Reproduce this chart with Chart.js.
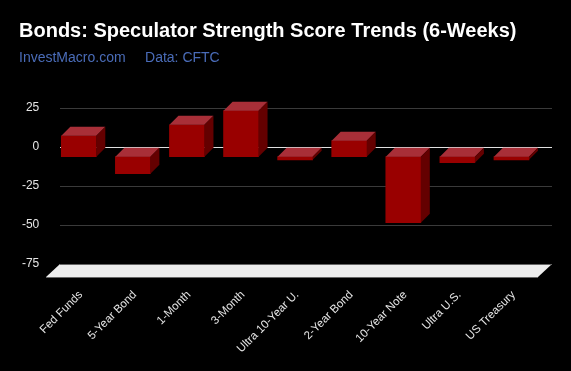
<!DOCTYPE html>
<html>
<head>
<meta charset="utf-8">
<style>
html, body { margin: 0; padding: 0; background: #000; }
canvas { display: block; }
</style>
<script src="https://cdn.jsdelivr.net/npm/chart.js@4"></script>
</head>
<body>
<canvas id="chart" width="571" height="371"></canvas>
<script>
const categories = ["Fed Funds", "5-Year Bond", "1-Month", "3-Month", "Ultra 10-Year U.", "2-Year Bond", "10-Year Note", "Ultra U.S.", "US Treasury"];
const scores = [13.4, -10.9, 20.5, 29.5, -2, 10.3, -42.3, -3.8, -2];
const yTicks = [25, 0, -25, -50, -75];
const titleText = "Bonds: Speculator Strength Score Trends (6-Weeks)";
const subtitleText = "InvestMacro.com     Data: CFTC";

const FONT = "'Liberation Sans', Arial, sans-serif";
const DEPTH = 9; // how far the bar boxes go back
const FRONT_SHIFT = 9.7; // front faces sit this far below the wall's zero line
const FLOOR_DEPTH = 14;
const FLOOR_HEIGHT = 13;
const WALL_LEFT = 60;
const WALL_RIGHT = 552;

// grid, floor and the fake 3D faces
const box3d = {
    id: "box3d",
    beforeDatasetsDraw(chart) {
        const { ctx } = chart;
        const y = chart.scales.y;
        ctx.save();
        y.ticks.forEach((tick) => {
            const py = Math.round(y.getPixelForValue(tick.value)) + 0.5;
            ctx.strokeStyle = tick.value === 0 ? "#e0e0e0" : "#3a3a3a";
            ctx.lineWidth = 1;
            ctx.beginPath();
            ctx.moveTo(WALL_LEFT, py);
            ctx.lineTo(WALL_RIGHT, py);
            ctx.stroke();
        });

        const floorTop = y.getPixelForValue(-75);
        ctx.fillStyle = "#ededed";
        ctx.beginPath();
        ctx.moveTo(WALL_LEFT, floorTop);
        ctx.lineTo(WALL_RIGHT, floorTop);
        ctx.lineTo(WALL_RIGHT - FLOOR_DEPTH, floorTop + FLOOR_HEIGHT);
        ctx.lineTo(WALL_LEFT - FLOOR_DEPTH, floorTop + FLOOR_HEIGHT);
        ctx.closePath();
        ctx.fill();
        ctx.strokeStyle = "#666";
        ctx.beginPath();
        ctx.moveTo(WALL_LEFT, floorTop + 0.5);
        ctx.lineTo(WALL_RIGHT, floorTop + 0.5);
        ctx.moveTo(WALL_LEFT - FLOOR_DEPTH, floorTop + FLOOR_HEIGHT + 0.5);
        ctx.lineTo(WALL_RIGHT - FLOOR_DEPTH, floorTop + FLOOR_HEIGHT + 0.5);
        ctx.stroke();
        ctx.restore();

        // front faces sit in front of the wall
        ctx.save();
        ctx.translate(0, FRONT_SHIFT);
    },
    afterDatasetsDraw(chart) {
        const { ctx } = chart;
        chart.getDatasetMeta(0).data.forEach((bar) => {
            const left = bar.x - bar.width / 2;
            const right = bar.x + bar.width / 2;
            const top = Math.min(bar.y, bar.base);
            const bottom = Math.max(bar.y, bar.base);

            ctx.fillStyle = "#a82f38";
            ctx.beginPath();
            ctx.moveTo(left, top);
            ctx.lineTo(left + DEPTH, top - DEPTH);
            ctx.lineTo(right + DEPTH, top - DEPTH);
            ctx.lineTo(right, top);
            ctx.closePath();
            ctx.fill();

            ctx.fillStyle = "#640000";
            ctx.beginPath();
            ctx.moveTo(right, top);
            ctx.lineTo(right + DEPTH, top - DEPTH);
            ctx.lineTo(right + DEPTH, bottom - DEPTH);
            ctx.lineTo(right, bottom);
            ctx.closePath();
            ctx.fill();
        });
        ctx.restore();
    },
};

new Chart(document.getElementById("chart"), {
    type: "bar",
    data: {
        labels: categories,
        datasets: [
            {
                data: scores,
                backgroundColor: "#990000",
                barThickness: 35,
                clip: false,
            },
        ],
    },
    options: {
        responsive: false,
        animation: false,
        layout: { padding: { left: 19, right: 32.5, top: 0, bottom: 0 } },
        plugins: {
            legend: { display: false },
            tooltip: { enabled: false },
            title: {
                display: true,
                text: titleText,
                align: "start",
                color: "#ffffff",
                font: { family: FONT, size: 20, weight: "bold" },
                padding: { top: 19, bottom: 7 },
            },
            subtitle: {
                display: true,
                text: subtitleText,
                align: "start",
                color: "#4a6cb8",
                font: { family: FONT, size: 14 },
                padding: { top: 0, bottom: 41.2 },
            },
        },
        scales: {
            x: {
                grid: { display: false },
                border: { display: false },
                afterFit: (scale) => {
                    scale.height = 107;
                },
                ticks: {
                    color: "#e6e6e6",
                    font: { family: FONT, size: 11.5 },
                    autoSkip: false,
                    minRotation: 45,
                    maxRotation: 45,
                    padding: 16,
                    labelOffset: 2,
                },
            },
            y: {
                min: -75,
                max: 25,
                grid: { display: false, drawTicks: false },
                border: { display: false },
                afterBuildTicks: (scale) => {
                    scale.ticks = yTicks.map((value) => ({ value }));
                },
                afterFit: (scale) => {
                    scale.width = 32.75;
                },
                ticks: {
                    color: "#e6e6e6",
                    font: { family: FONT, size: 12 },
                    padding: 12.5,
                },
            },
        },
    },
    plugins: [box3d],
});
</script>
</body>
</html>
